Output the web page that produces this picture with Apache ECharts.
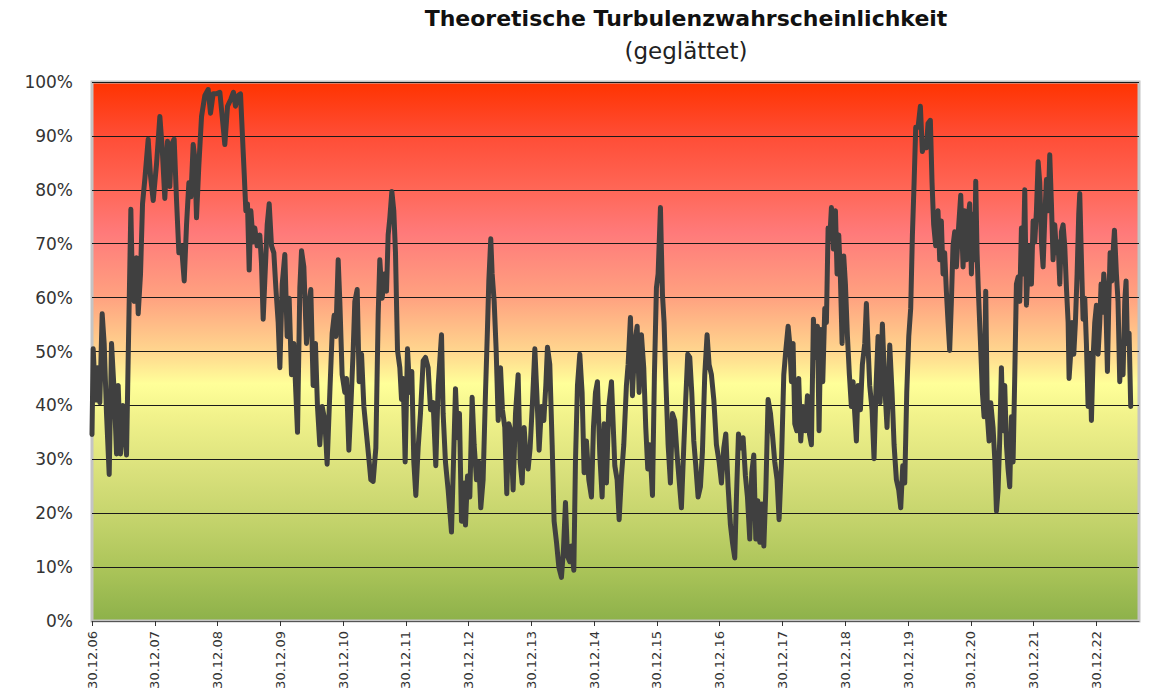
<!DOCTYPE html>
<html>
<head>
<meta charset="utf-8">
<script src="https://cdn.jsdelivr.net/npm/echarts@6/dist/echarts.min.js"></script>
<style>
html,body{margin:0;padding:0;background:#fff;}
#chart{width:1150px;height:695px;}
</style>
</head>
<body>
<div id="chart"></div>
<script>
// Title texts
const titleText = 'Theoretische Turbulenzwahrscheinlichkeit';
const subtitleText = '(geglättet)';

// X tick labels (one per year, starting at 30.12.06)
const xLabels = ['30.12.06','30.12.07','30.12.08','30.12.09','30.12.10','30.12.11','30.12.12','30.12.13','30.12.14','30.12.15','30.12.16','30.12.17','30.12.18','30.12.19','30.12.20','30.12.21','30.12.22'];

// Y axis range (percent)
const yMin = 0, yMax = 100, yStep = 10;
// X axis end (years after 30.12.06)
const xEnd = 16.68;

// Smoothed turbulence probability: [years after 30.12.06, percent]
const turbulence = [
[0,34.6],[0.019,50.5],[0.056,41],[0.088,47],[0.125,40.5],[0.162,57],[0.194,51.5],[0.231,38.5],[0.274,27.2],[0.311,51.5],[0.354,42.4],[0.391,31],[0.417,43.7],[0.454,31],[0.492,40],[0.55,30.8],[0.577,49],[0.619,76.4],[0.64,64.4],[0.672,59.3],[0.709,67.4],[0.736,57],[0.773,64.4],[0.805,77.4],[0.842,82],[0.895,89.4],[0.932,82.6],[0.975,78],[1.028,84.8],[1.081,93.6],[1.118,87.8],[1.16,78.4],[1.203,89],[1.24,80.6],[1.267,88.4],[1.309,89.4],[1.347,78],[1.384,68.3],[1.426,69.6],[1.469,63.1],[1.506,73.5],[1.543,81.3],[1.575,78.7],[1.612,88.4],[1.639,85.8],[1.665,74.8],[1.702,84.5],[1.745,93.6],[1.798,97.5],[1.851,98.6],[1.888,94.2],[1.93,97.8],[1.983,97.8],[2.037,98.1],[2.074,93.6],[2.116,88.4],[2.159,95.5],[2.212,96.8],[2.254,98.1],[2.286,95.5],[2.329,97.5],[2.366,97.8],[2.393,91],[2.424,83.2],[2.451,76.1],[2.477,77.4],[2.504,65.1],[2.531,76.1],[2.568,70.3],[2.594,72.9],[2.631,69.6],[2.674,71.6],[2.7,66.4],[2.727,56],
[2.791,73.5],[2.823,77.4],[2.86,69.6],[2.897,68.3],[2.929,61.8],[2.966,55.4],[2.993,47],[3.03,62.5],[3.072,68],[3.109,52.8],[3.141,59.9],[3.178,45.7],[3.215,51.5],[3.247,42.4],[3.274,35],[3.311,61.8],[3.338,68.7],[3.375,65.7],[3.417,51.5],[3.454,58.6],[3.486,61.5],[3.523,43.7],[3.56,51.5],[3.592,39.8],[3.629,32.7],[3.667,39.8],[3.709,37.2],[3.746,29.1],[3.789,42.4],[3.826,53.4],[3.858,56.7],[3.884,52.8],[3.922,67],[3.948,59.3],[3.985,45.7],[4.028,42.4],[4.054,45],[4.092,31.7],[4.124,39.8],[4.161,50.2],[4.187,59.3],[4.225,61.5],[4.256,44.4],[4.294,49.5],[4.331,39.8],[4.373,34.7],[4.416,29.5],[4.442,26.2],[4.479,25.9],[4.522,32.1],[4.559,56.7],[4.585,67],[4.623,59.9],[4.655,64.4],[4.692,61.2],[4.718,71.6],[4.745,74.8],[4.777,79.7],[4.808,76.1],[4.835,68.3],[4.867,50.2],[4.904,47],[4.931,41.1],[4.957,45],[4.989,29.5],[5.026,50.5],[5.063,42.4],[5.095,46.3],[5.127,29.5],[5.159,23.3],[5.196,32.1],[5.233,38.5],[5.276,48.3],[5.313,48.9],[5.355,47],[5.393,39.2],[5.435,40.5],[5.477,28.8],[5.515,43.7],
[5.568,53.1],[5.594,38.5],[5.631,29.5],[5.674,24.3],[5.727,16.5],[5.759,29.5],[5.791,43.1],[5.823,34],[5.854,38.5],[5.886,18.5],[5.929,25.6],[5.95,17.8],[5.982,26.9],[6.019,23],[6.056,41.5],[6.088,32.7],[6.125,26.2],[6.162,29.5],[6.194,21],[6.231,26.2],[6.269,42.4],[6.3,54.1],[6.322,63.1],[6.353,70.9],[6.375,64.4],[6.407,59.3],[6.439,50.2],[6.471,37.2],[6.508,47],[6.539,39.2],[6.576,35.9],[6.608,23.6],[6.64,36.6],[6.672,35.3],[6.709,24.3],[6.747,38.5],[6.789,45.7],[6.821,29.5],[6.853,25.6],[6.885,35.9],[6.916,30.1],[6.948,28.2],[6.98,32.1],[7.017,40.5],[7.055,50.5],[7.086,42.4],[7.123,31.7],[7.161,39.8],[7.198,37.2],[7.23,43.7],[7.256,50.8],[7.293,47.6],[7.331,32.7],[7.362,18.5],[7.4,14.6],[7.437,10],[7.479,8.1],[7.511,13.3],[7.543,22],[7.575,12],[7.612,11],[7.639,13.9],[7.676,9.4],[7.702,29.5],[7.734,43.7],[7.771,49.5],[7.808,42.4],[7.84,27.5],[7.877,33.4],[7.915,26.2],[7.957,23],[7.989,35.9],[8.021,42.4],[8.052,44.4],[8.09,30.8],[8.127,23],[8.159,36.6],[8.196,25.6],[8.233,39.8],[8.276,44.4],
[8.329,28.8],[8.366,26.2],[8.398,18.8],[8.435,26.9],[8.472,32.7],[8.514,43.7],[8.541,47.6],[8.578,56.3],[8.61,41.8],[8.647,51.5],[8.685,54.7],[8.716,42.4],[8.753,53.1],[8.79,47],[8.822,35.9],[8.854,28.2],[8.886,32.7],[8.929,23.3],[8.96,45.7],[8.992,61.8],[9.019,64.4],[9.056,76.7],[9.088,60.6],[9.114,55.4],[9.141,45],[9.178,32.7],[9.215,25.6],[9.247,38.5],[9.284,37.2],[9.321,30.8],[9.353,26.2],[9.39,21],[9.427,32.1],[9.459,41.1],[9.491,49.5],[9.523,48.9],[9.555,42.4],[9.587,33.4],[9.619,28.8],[9.656,23],[9.693,24.9],[9.725,31.4],[9.762,45.7],[9.799,53.1],[9.831,47.6],[9.868,45.7],[9.906,41.1],[9.948,32.7],[9.991,29.5],[10.028,25.6],[10.065,32.1],[10.097,34.7],[10.134,24.9],[10.171,17.8],[10.203,14.6],[10.24,11.7],[10.267,23],[10.299,34.7],[10.336,32.1],[10.373,34],[10.41,26.9],[10.442,23],[10.479,15.2],[10.511,27.5],[10.543,30.8],[10.575,15.2],[10.607,22.3],[10.639,14.6],[10.671,21.7],[10.703,13.9],[10.735,24.3],[10.771,41.1],[10.809,38.5],[10.84,34.7],[10.877,29.5],[10.914,26.2],[10.946,18.8],[10.984,29.5],[11.021,45.7],[11.053,50.2],[11.09,54.7],
[11.116,51.5],[11.143,44.4],[11.169,51.5],[11.196,36.6],[11.228,35.3],[11.259,45],[11.291,33.4],[11.328,39.8],[11.366,35.3],[11.398,41.8],[11.43,34.7],[11.461,32.7],[11.493,56],[11.525,48.9],[11.557,54.7],[11.583,35.3],[11.61,54.1],[11.642,44.4],[11.674,58],[11.7,55.4],[11.727,72.9],[11.753,70.9],[11.78,76.7],[11.812,69],[11.844,76.1],[11.87,64.4],[11.897,71.6],[11.923,63.8],[11.95,51.5],[11.976,67.7],[12.003,62.5],[12.035,52.8],[12.066,45.7],[12.098,39.8],[12.125,44.4],[12.151,38.5],[12.178,33.4],[12.205,43.7],[12.242,39.2],[12.273,47.6],[12.311,51.5],[12.337,58.9],[12.364,50.8],[12.39,43.7],[12.427,39.2],[12.459,30.1],[12.491,43.7],[12.523,52.8],[12.555,40.5],[12.592,55.1],[12.629,43.7],[12.666,35.9],[12.709,51.2],[12.746,42.4],[12.778,32.7],[12.815,26.2],[12.852,24.3],[12.884,21],[12.916,28.8],[12.948,25.6],[12.98,42.4],[13.012,52.8],[13.043,58],[13.07,71.6],[13.097,81.3],[13.123,91.6],[13.16,91.6],[13.197,95.5],[13.229,87.1],[13.266,89],[13.293,87.8],[13.319,92.3],[13.356,92.9],[13.383,81.3],[13.409,73.5],[13.441,69.6],[13.478,76.1],[13.505,67],[13.531,74.2],[13.558,64.4],[13.584,68.3],[13.611,61.2],[13.638,55.4],[13.664,50.2],[13.691,59.3],[13.717,69.6],[13.744,72.2],[13.771,65.7],[13.808,73.5],[13.84,79],[13.877,65.7],
[13.904,76.1],[13.93,67],[13.957,74.8],[13.983,77.4],[14.01,64.4],[14.036,75.5],[14.063,67],[14.079,81.6],[14.1,68.3],[14.121,61.2],[14.153,52.1],[14.185,42.4],[14.212,37.9],[14.238,61.2],[14.265,37.9],[14.292,33.4],[14.318,40.5],[14.355,35.9],[14.382,30.1],[14.409,20.4],[14.435,24.3],[14.462,34],[14.488,47],[14.515,35.3],[14.541,43.7],[14.568,32.7],[14.594,28.2],[14.621,24.9],[14.648,37.9],[14.674,29.5],[14.701,45.7],[14.727,62.5],[14.754,63.8],[14.78,59.3],[14.807,72.9],[14.833,64.4],[14.86,80],[14.887,58.6],[14.913,65.7],[14.94,69.6],[14.966,62.5],[14.993,74.2],[15.019,70.3],[15.046,76.1],[15.073,85.2],[15.099,81.3],[15.126,70.3],[15.152,65.7],[15.179,74.8],[15.205,81.9],[15.232,76.1],[15.258,86.5],[15.285,77.4],[15.311,67],[15.338,73.5],[15.365,68.3],[15.391,70.3],[15.418,62.5],[15.444,72.2],[15.471,73.5],[15.497,69.6],[15.524,61.8],[15.551,55.4],[15.566,45],[15.588,48.9],[15.614,55.4],[15.641,49.5],[15.667,55.4],[15.694,64.4],[15.72,75.5],[15.736,79.3],[15.763,67],[15.789,56],[15.816,59.9],[15.842,51.5],[15.869,39.8],[15.896,49.5],[15.922,37.2],[15.949,48.9],[15.975,55.4],[16.002,58.6],[16.028,49.5],[16.055,55.4],[16.076,62.5],[16.097,57.3],[16.119,64.4],[16.151,59.3],[16.177,46.3],[16.199,59.3],[16.22,68.3],[16.247,63.1],[16.273,69.6],[16.289,72.5],[16.32,64.4],[16.346,59.3],[16.373,44.4],[16.399,51.5],[16.426,45.7],[16.453,59.3],[16.474,63.1],[16.495,51.5],[16.522,53.4],[16.548,39.8]
];

const chart = echarts.init(document.getElementById('chart'), null, {renderer: 'svg'});

const bgGradient = new echarts.graphic.LinearGradient(0, 0, 0, 1, [
  {offset: 0.00, color: '#FF3300'},
  {offset: 0.10, color: '#FF4D36'},
  {offset: 0.20, color: '#FF6757'},
  {offset: 0.28, color: '#FF7A7A'},
  {offset: 0.40, color: '#FFA280'},
  {offset: 0.50, color: '#FFD68E'},
  {offset: 0.56, color: '#FFFF99'},
  {offset: 0.62, color: '#F1F28B'},
  {offset: 0.72, color: '#DAE17C'},
  {offset: 0.82, color: '#C2D26A'},
  {offset: 0.91, color: '#A9C358'},
  {offset: 1.00, color: '#8DB14A'}
]);

const option = {
  animation: false,
  backgroundColor: '#ffffff',
  graphic: [
    {type: 'text', x: 686, y: 18, z: 10,
     style: {text: titleText, fill: '#111', align: 'center', verticalAlign: 'middle', textAlign: 'center', textVerticalAlign: 'middle',
             font: 'bold 22px "DejaVu Sans", sans-serif'}},
    {type: 'text', x: 686, y: 51, z: 10,
     style: {text: subtitleText, fill: '#222', align: 'center', verticalAlign: 'middle', textAlign: 'center', textVerticalAlign: 'middle',
             font: '23px "DejaVu Sans", sans-serif'}}
  ],
  grid: {
    left: 92, right: 11, top: 82, bottom: 74,
    show: true,
    backgroundColor: bgGradient,
    borderColor: '#c4c4c4',
    borderWidth: 3
  },
  xAxis: {
    type: 'value',
    min: 0, max: xEnd, interval: 1,
    axisLine: {show: true, onZero: false, lineStyle: {color: '#555', width: 1}},
    axisTick: {show: true, length: 5, inside: false, lineStyle: {color: '#333'}},
    splitLine: {show: false},
    axisLabel: {
      rotate: 90, margin: 10, fontSize: 13, color: '#333',
      fontFamily: '"DejaVu Sans", sans-serif',
      showMaxLabel: false,
      formatter: v => xLabels[Math.round(v)] !== undefined && Math.abs(v - Math.round(v)) < 1e-6 ? xLabels[Math.round(v)] : ''
    }
  },
  yAxis: {
    type: 'value',
    min: yMin, max: yMax, interval: yStep,
    axisLine: {show: false},
    axisTick: {show: false},
    splitLine: {show: true, lineStyle: {color: '#1a1a1a', width: 1}},
    axisLabel: {
      margin: 19, fontSize: 17, color: '#333',
      fontFamily: '"DejaVu Sans", sans-serif',
      formatter: '{value}%'
    }
  },
  series: [{
    type: 'line',
    data: turbulence,
    symbol: 'none',
    smooth: false,
    lineStyle: {color: '#404040', width: 5, join: 'round', cap: 'round'},
    z: 5
  }]
};
chart.setOption(option);
</script>
</body>
</html>
